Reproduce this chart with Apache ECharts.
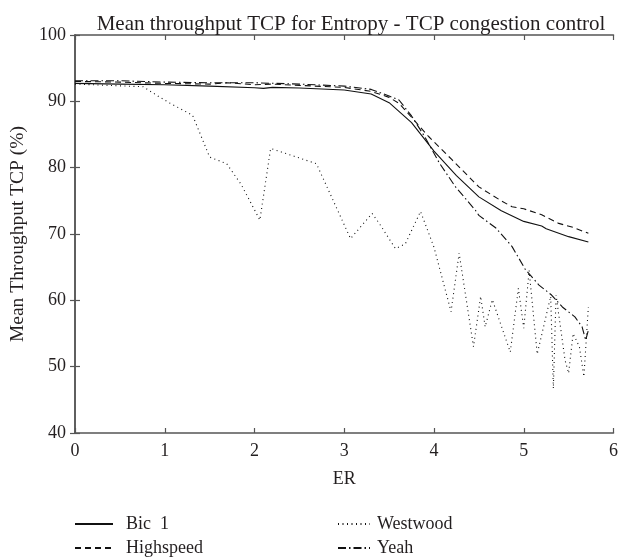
<!DOCTYPE html>
<html>
<head>
<meta charset="utf-8">
<script src="https://cdn.jsdelivr.net/npm/echarts@6/dist/echarts.min.js"></script>
<style>
  html, body { margin: 0; padding: 0; background: #fff; }
  #chart { width: 621px; height: 558px; }
</style>
</head>
<body>
<div id="chart"></div>
<script>
// Mean TCP throughput (%) against ER for four congestion-control algorithms
const xTicks = [0, 1, 2, 3, 4, 5, 6];
const yTicks = [40, 50, 60, 70, 80, 90, 100];

const bicX = [0, 0.5, 1, 1.5, 2, 2.1, 2.2, 2.5, 3, 3.3, 3.5, 3.75, 4, 4.25, 4.5, 4.75, 5, 5.2, 5.25, 5.5, 5.72];
const bicY = [92.7, 92.6, 92.5, 92.3, 92.05, 91.95, 92.1, 92.0, 91.7, 91.1, 89.8, 86.8, 82.5, 78.8, 75.6, 73.5, 71.9, 71.2, 70.8, 69.6, 68.8];

const highX = [0, 0.5, 1, 1.5, 1.7, 2, 2.2, 2.5, 3, 3.3, 3.5, 3.61, 3.75, 3.94, 4.2, 4.5, 4.75, 4.87, 5, 5.2, 5.39, 5.55, 5.72];
const highY = [93.0, 92.9, 92.7, 92.6, 92.8, 92.5, 92.6, 92.4, 92.1, 91.5, 90.6, 89.7, 87.6, 84.7, 81.2, 77.1, 75.0, 74.1, 73.8, 72.9, 71.6, 71.0, 70.1];

const westX = [0, 0.76, 0.9, 1.06, 1.31, 1.5, 1.69, 1.85, 2.06, 2.18, 2.69, 3.07, 3.31, 3.39, 3.57, 3.68, 3.85, 4.0, 4.19, 4.28, 4.44, 4.52, 4.57, 4.65, 4.85, 4.94, 5.0, 5.06, 5.15, 5.3, 5.33, 5.36, 5.46, 5.5, 5.55, 5.62, 5.67, 5.72];
const westY = [92.6, 92.2, 91.0, 89.7, 87.9, 81.6, 80.6, 77.5, 72.1, 82.9, 80.6, 69.3, 73.1, 71.6, 67.8, 68.5, 73.4, 68.0, 58.3, 67.1, 53.0, 60.6, 56.0, 60.1, 52.2, 61.8, 55.8, 64.5, 51.9, 60.6, 46.7, 60.8, 51.0, 49.0, 55.0, 53.0, 48.5, 59.0];

const yeahX = [0, 0.5, 1, 1.5, 2, 2.5, 3, 3.3, 3.5, 3.61, 3.75, 3.9, 4.06, 4.24, 4.46, 4.5, 4.69, 4.87, 5.02, 5.17, 5.31, 5.43, 5.57, 5.65, 5.69, 5.72];
const yeahY = [93.1, 93.1, 92.9, 92.8, 92.8, 92.6, 92.3, 91.8, 90.8, 90.2, 87.8, 84.6, 80.7, 77.1, 73.6, 72.8, 70.9, 68.1, 64.6, 62.3, 60.8, 59.0, 57.5, 56.0, 54.0, 55.5];

const names = ['Bic  1', 'Highspeed', 'Westwood', 'Yeah'];

const ink = '#231f20';
const axisColor = '#555';
const FONT = '"Liberation Serif", "DejaVu Serif", serif';

function pairs(xs, ys) { return xs.map((x, i) => [x, ys[i]]); }

function lineSeries(name, xs, ys, type) {
  return {
    name: name,
    type: 'line',
    data: pairs(xs, ys),
    symbol: 'none',
    lineStyle: { color: '#111', width: 1.1, type: type },
    itemStyle: { color: '#111' },
    emphasis: { disabled: true },
    animation: false
  };
}

// one legend block per entry so the two-column layout is explicit
function legendEntry(name, left, top, width, gap) {
  return {
    data: [name],
    left: left,
    top: top,
    padding: 0,
    itemWidth: width,
    itemHeight: 14,
    itemStyle: { opacity: 0 },
    selectedMode: false,
    textStyle: { fontFamily: FONT, fontSize: 18, color: ink, padding: [0, 0, 0, gap] }
  };
}

const chart = echarts.init(document.getElementById('chart'), null, { renderer: 'canvas' });

const baseAxisLine = { show: true, lineStyle: { color: axisColor, width: 1.5 } };
const baseTick = { show: true, inside: true, length: 5, lineStyle: { color: axisColor, width: 1.2 } };

chart.setOption({
  backgroundColor: '#fff',
  animation: false,
  textStyle: { fontFamily: FONT, color: ink },
  title: {
    text: 'Mean throughput TCP for Entropy - TCP congestion control',
    left: 346,
    textAlign: 'center',
    top: 9,
    textStyle: { fontFamily: FONT, fontWeight: 'normal', fontSize: 21, color: ink }
  },
  legend: [
    legendEntry(names[0], 74, 515, 38, 8),
    legendEntry(names[1], 74, 539, 38, 8),
    legendEntry(names[2], 337, 515, 32, 2),
    legendEntry(names[3], 337, 539, 32, 2)
  ],
  grid: { left: 75, right: 6, top: 35, bottom: 125, containLabel: false },
  xAxis: [
    {
      type: 'value', min: xTicks[0], max: xTicks[xTicks.length - 1], interval: 1,
      name: 'ER', nameLocation: 'middle', nameGap: 37,
      nameTextStyle: { fontFamily: FONT, fontSize: 18, color: ink },
      axisLine: baseAxisLine, axisTick: baseTick,
      axisLabel: { fontFamily: FONT, fontSize: 18, color: ink, margin: 9 },
      splitLine: { show: false }
    },
    {
      type: 'value', position: 'top', min: xTicks[0], max: xTicks[xTicks.length - 1], interval: 1,
      axisLine: baseAxisLine, axisTick: baseTick, axisLabel: { show: false }, splitLine: { show: false }
    }
  ],
  yAxis: [
    {
      type: 'value', min: yTicks[0], max: yTicks[yTicks.length - 1], interval: 10,
      name: 'Mean Throughput TCP (%)', nameLocation: 'middle', nameGap: 47,
      nameTextStyle: { fontFamily: FONT, fontSize: 19.5, color: ink },
      axisLine: baseAxisLine, axisTick: baseTick,
      axisLabel: { fontFamily: FONT, fontSize: 18, color: ink, margin: 9 },
      splitLine: { show: false }
    },
    {
      type: 'value', position: 'right', min: yTicks[0], max: yTicks[yTicks.length - 1], interval: 10,
      axisLine: baseAxisLine, axisTick: baseTick, axisLabel: { show: false }, splitLine: { show: false }
    }
  ],
  series: [
    lineSeries(names[0], bicX, bicY, 'solid'),
    lineSeries(names[1], highX, highY, [6, 4]),
    lineSeries(names[2], westX, westY, [1, 3.5]),
    lineSeries(names[3], yeahX, yeahY, [8, 3, 1.5, 3])
  ]
});
</script>
</body>
</html>
